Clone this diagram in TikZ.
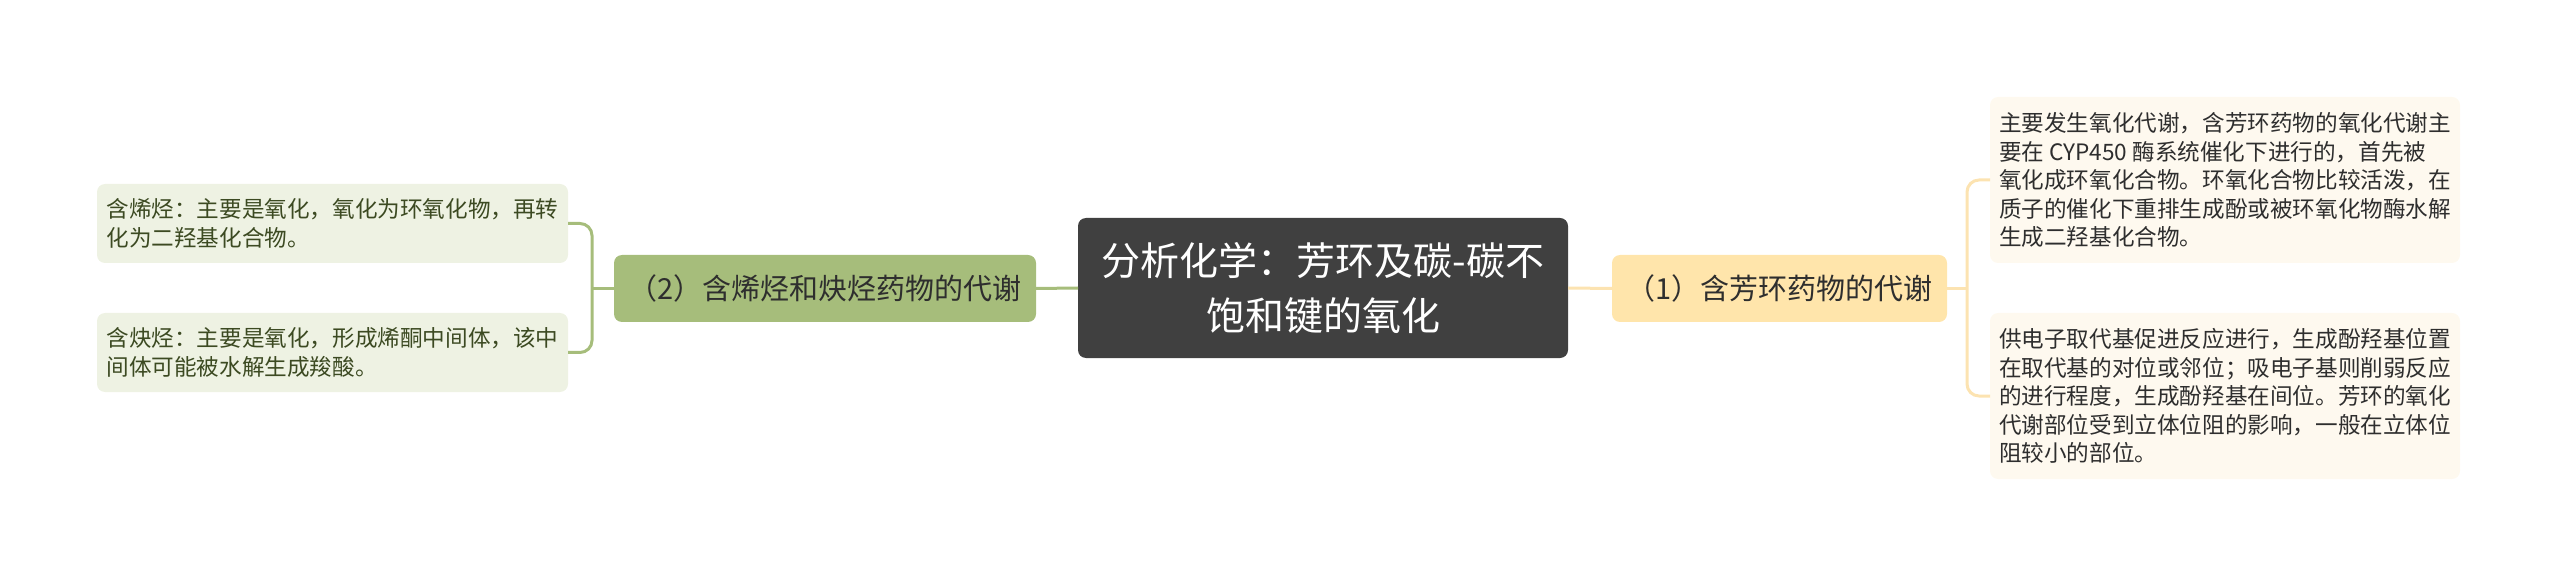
\documentclass[tikz,border=0pt]{standalone}
\usepackage{fontspec}
\newfontfamily\cjk{Noto Sans CJK SC}
\definecolor{rootfill}{HTML}{404040}
\definecolor{yfill}{HTML}{FFE5AB}
\definecolor{yline}{HTML}{FCE3B1}
\definecolor{rleaffill}{HTML}{FEF9EF}
\definecolor{gfill}{HTML}{A6BD7B}
\definecolor{gline}{HTML}{A6BD7B}
\definecolor{lleaffill}{HTML}{EEF2E3}
\definecolor{ltext}{HTML}{3C4A22}
\definecolor{dtext}{HTML}{2E2E2E}
\begin{document}
\begin{tikzpicture}[x=1pt,y=-1pt,
  every node/.style={inner sep=0pt, outer sep=0pt},
  rootbox/.style={fill=rootfill, rounded corners=8pt, minimum width=490pt, minimum height=140pt,
    text=white, align=center, font=\cjk\fontsize{39}{55}\selectfont},
  ybranch/.style={fill=yfill, rounded corners=8pt, minimum width=335pt, minimum height=67pt,
    text=dtext, font=\cjk\fontsize{29}{35}\selectfont},
  gbranch/.style={fill=gfill, rounded corners=8pt, minimum width=422pt, minimum height=67pt,
    text=dtext, font=\cjk\fontsize{29}{35}\selectfont},
  rleaf/.style={fill=rleaffill, rounded corners=8pt, minimum width=470pt, minimum height=166pt,
    align=left, text=dtext, font=\cjk\fontsize{22.6}{28.5}\selectfont},
  lleaf/.style={fill=lleaffill, rounded corners=8pt, minimum width=471pt, minimum height=79pt,
    align=left, text=ltext, font=\cjk\fontsize{22.6}{28.5}\selectfont},
  yconn/.style={draw=yline, line width=3pt, rounded corners=12pt},
  gconn/.style={draw=gline, line width=3pt, rounded corners=12pt}]
\useasboundingbox (0,0) rectangle (2560,577);

\node[rootbox] (root) at (1323,288) {分析化学：芳环及碳-碳不\\饱和键的氧化};
\node[ybranch] (b1) at (1779.5,288.5) {（1）含芳环药物的代谢};
\node[gbranch] (b2) at (825,288.5) {（2）含烯烃和炔烃药物的代谢};

\node[rleaf] (r1) at (2225,180) {主要发生氧化代谢，含芳环药物的氧化代谢主\\要在 CYP450 酶系统催化下进行的，首先被\\氧化成环氧化合物。环氧化合物比较活泼，在\\质子的催化下重排生成酚或被环氧化物酶水解\\生成二羟基化合物。};
\node[rleaf] (r2) at (2225,396) {供电子取代基促进反应进行，生成酚羟基位置\\在取代基的对位或邻位；吸电子基则削弱反应\\的进行程度，生成酚羟基在间位。芳环的氧化\\代谢部位受到立体位阻的影响，一般在立体位\\阻较小的部位。};

\node[lleaf] (l1) at (332.5,223.5) {含烯烃：主要是氧化，氧化为环氧化物，再转\\化为二羟基化合物。};
\node[lleaf] (l2) at (332.5,352.5) {含炔烃：主要是氧化，形成烯酮中间体，该中\\间体可能被水解生成羧酸。};

\coordinate (rb) at (1967,288.5);
\coordinate (lb) at (592,288.5);

\draw[yconn] (root.east) -- (b1.west);
\draw[yconn] (b1.east) -- (rb);
\draw[yconn] (r1.west) -| (rb) |- (r2.west);

\draw[gconn] (root.west) -- (b2.east);
\draw[gconn] (b2.west) -- (lb);
\draw[gconn] (l1.east) -| (lb) |- (l2.east);
\end{tikzpicture}
\end{document}
